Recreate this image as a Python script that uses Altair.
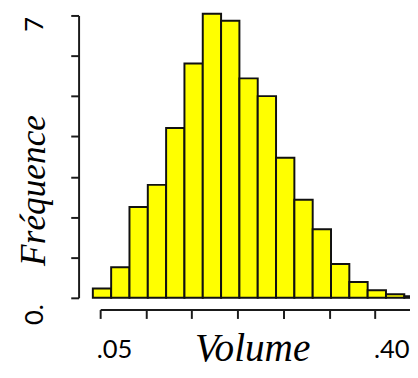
import altair as alt
import pandas as pd

# Histogram bins (Volume) and their frequencies
bin_start = [0.042, 0.062, 0.082, 0.102, 0.122, 0.142, 0.162, 0.182, 0.202,
             0.222, 0.242, 0.262, 0.282, 0.302, 0.322, 0.342, 0.362, 0.382]
bin_end = [0.062, 0.082, 0.102, 0.122, 0.142, 0.162, 0.182, 0.202, 0.222,
           0.242, 0.262, 0.282, 0.302, 0.322, 0.342, 0.362, 0.382, 0.402]
frequence = [0.23, 0.76, 2.25, 2.80, 4.21, 5.81, 7.04, 6.87, 5.44,
             5.00, 3.47, 2.43, 1.70, 0.84, 0.39, 0.19, 0.09, 0.04]

x_ticks = [0.05, 0.10, 0.15, 0.20, 0.25, 0.30, 0.35, 0.40]
y_ticks = [0, 1, 2, 3, 4, 5, 6, 7]

df = pd.DataFrame({"start": bin_start, "end": bin_end, "freq": frequence})

AX = "#1a1a1a"

x_axis = alt.Axis(
    values=x_ticks, offset=12, tickSize=9, tickWidth=2, tickColor=AX,
    domainColor=AX, domainWidth=2, grid=False,
    labelExpr="datum.value < 0.07 ? '.05' : (datum.value > 0.38 ? '.40' : '')",
    labelAlign={"condition": {"test": "datum.value > 0.38", "value": "right"}, "value": "left"},
    labelOffset={"condition": {"test": "datum.value > 0.38", "value": -12}, "value": -4},
    labelBaseline="alphabetic", labelPadding=40,
    labelFont="Lato", labelFontSize=26, labelColor="black", labelOverlap=False,
    title="Volume", titleFont="Liberation Serif", titleFontStyle="italic",
    titleFontWeight="normal", titleFontSize=40, titleColor="black",
    titleX=155, titleY=52, titleAlign="center", titleBaseline="alphabetic",
)

y_axis = alt.Axis(
    values=y_ticks, offset=22, tickSize=8, tickWidth=2, tickColor=AX,
    domainColor=AX, domainWidth=2, grid=False,
    labelExpr="datum.value == 0 ? '0.' : (datum.value == 7 ? '7' : '')",
    labelAngle=270, labelAlign="right", labelBaseline="middle", labelPadding=37,
    labelOffset={"condition": {"test": "datum.value < 0.5", "value": 6}, "value": 1},
    labelFont="Lato", labelFontSize=26, labelColor="black", labelOverlap=False,
    title="Fréquence", titleFont="Liberation Serif", titleFontStyle="italic",
    titleFontWeight="normal", titleFontSize=36, titleColor="black",
    titleAngle=270, titleX=-46, titleY=178, titleAlign="center", titleBaseline="middle",
)

chart = alt.Chart(df).mark_bar(
    fill="#FFFF00", stroke="#111111", strokeWidth=2
).encode(
    x=alt.X("start:Q", scale=alt.Scale(domain=[0.05, 0.40], nice=False, zero=False, rangeMin=0, rangeMax=327), axis=x_axis),
    x2="end:Q",
    y=alt.Y("freq:Q", scale=alt.Scale(domain=[0, 7], nice=False), axis=y_axis),
    y2=alt.datum(0),
).properties(
    width=316, height=288,
    autosize=alt.AutoSizeParams(type="none"),
    padding={"left": 94, "top": 4, "right": 0, "bottom": 70},
    background="white",
).configure_view(stroke=None)

chart.save("out.html", embed_options={"renderer": "svg", "actions": False})
